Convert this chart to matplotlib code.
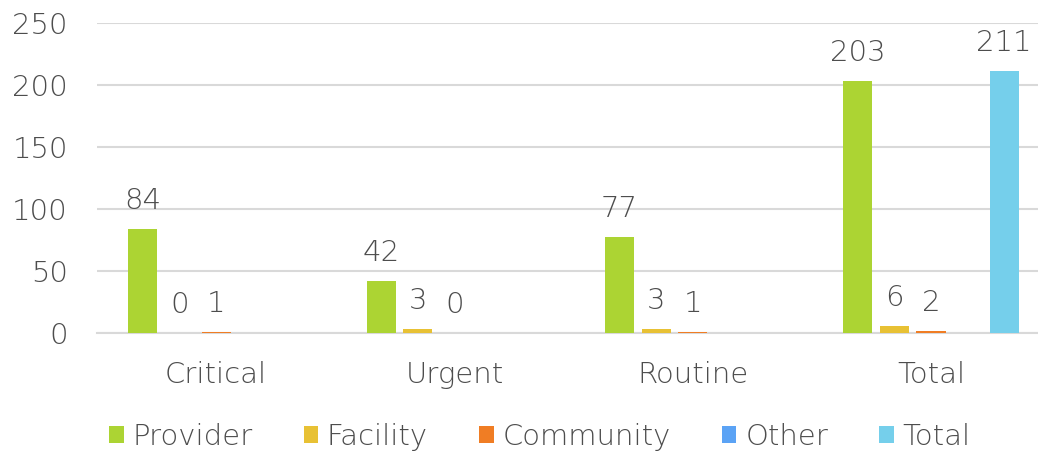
import numpy as np
import matplotlib.pyplot as plt
from matplotlib.patches import Patch

# --------------------------------------------------------
# Data
# --------------------------------------------------------
categories = ["Critical", "Urgent", "Routine", "Total"]
series_names = ["Provider", "Facility", "Community", "Other", "Total"]
provider = [84, 42, 77, 203]
facility = [0, 3, 3, 6]
community = [1, 0, 1, 2]
other = [np.nan, np.nan, np.nan, np.nan]
total = [np.nan, np.nan, np.nan, 211]

colors = ["#ACD433", "#E8C134", "#F07D24", "#5BA3F5", "#75CFEB"]
text_color = "#4D4D4D"
grid_color = "#D9D9D9"

plt.rcParams["font.family"] = ["DejaVu Sans"]
plt.rcParams["font.weight"] = "light"

# --------------------------------------------------------
# Figure
# --------------------------------------------------------
fig = plt.figure(figsize=(10.38, 4.55), dpi=100)
ax = fig.add_axes([97 / 1038, 122 / 455, 941 / 1038, 310.5 / 455])

x = np.arange(len(categories))
step = 0.1536
width = 0.122
all_series = [provider, facility, community, other, total]

for i, (vals, name, col) in enumerate(zip(all_series, series_names, colors)):
    bars = ax.bar(x + (i - 2) * step, vals, width, color=col, label=name, zorder=3)
    labels = ["" if np.isnan(v) else f"{int(v)}" for v in vals]
    ax.bar_label(bars, labels=labels, padding=10, fontsize=21, color=text_color)

# --------------------------------------------------------
# Axes styling
# --------------------------------------------------------
ax.set_xlim(-0.5, 3.449)
ax.set_ylim(0, 250)
ax.set_yticks(range(0, 251, 50))
ax.set_xticks(x)
ax.set_xticklabels(categories)
ax.tick_params(axis="both", length=0, labelsize=21, labelcolor=text_color)
ax.tick_params(axis="y", pad=21)
ax.tick_params(axis="x", pad=20)
ax.yaxis.grid(True, color=grid_color, linewidth=1.5, zorder=0)
for s in ["top", "right", "left"]:
    ax.spines[s].set_visible(False)
ax.spines["bottom"].set_color(grid_color)
ax.spines["bottom"].set_linewidth(1.5)
ax.spines["bottom"].set_zorder(2)

# --------------------------------------------------------
# Legend
# --------------------------------------------------------
handles = [Patch(facecolor=c, label=n) for c, n in zip(colors, series_names)]
leg = fig.legend(handles=handles, loc="center", bbox_to_anchor=(0.52, 0.04), ncol=5,
                 frameon=False, fontsize=21, handlelength=0.5, handleheight=0.5,
                 handletextpad=0.3, columnspacing=1.75)
for t in leg.get_texts():
    t.set_color(text_color)

fig.savefig("out.png", dpi=100)
